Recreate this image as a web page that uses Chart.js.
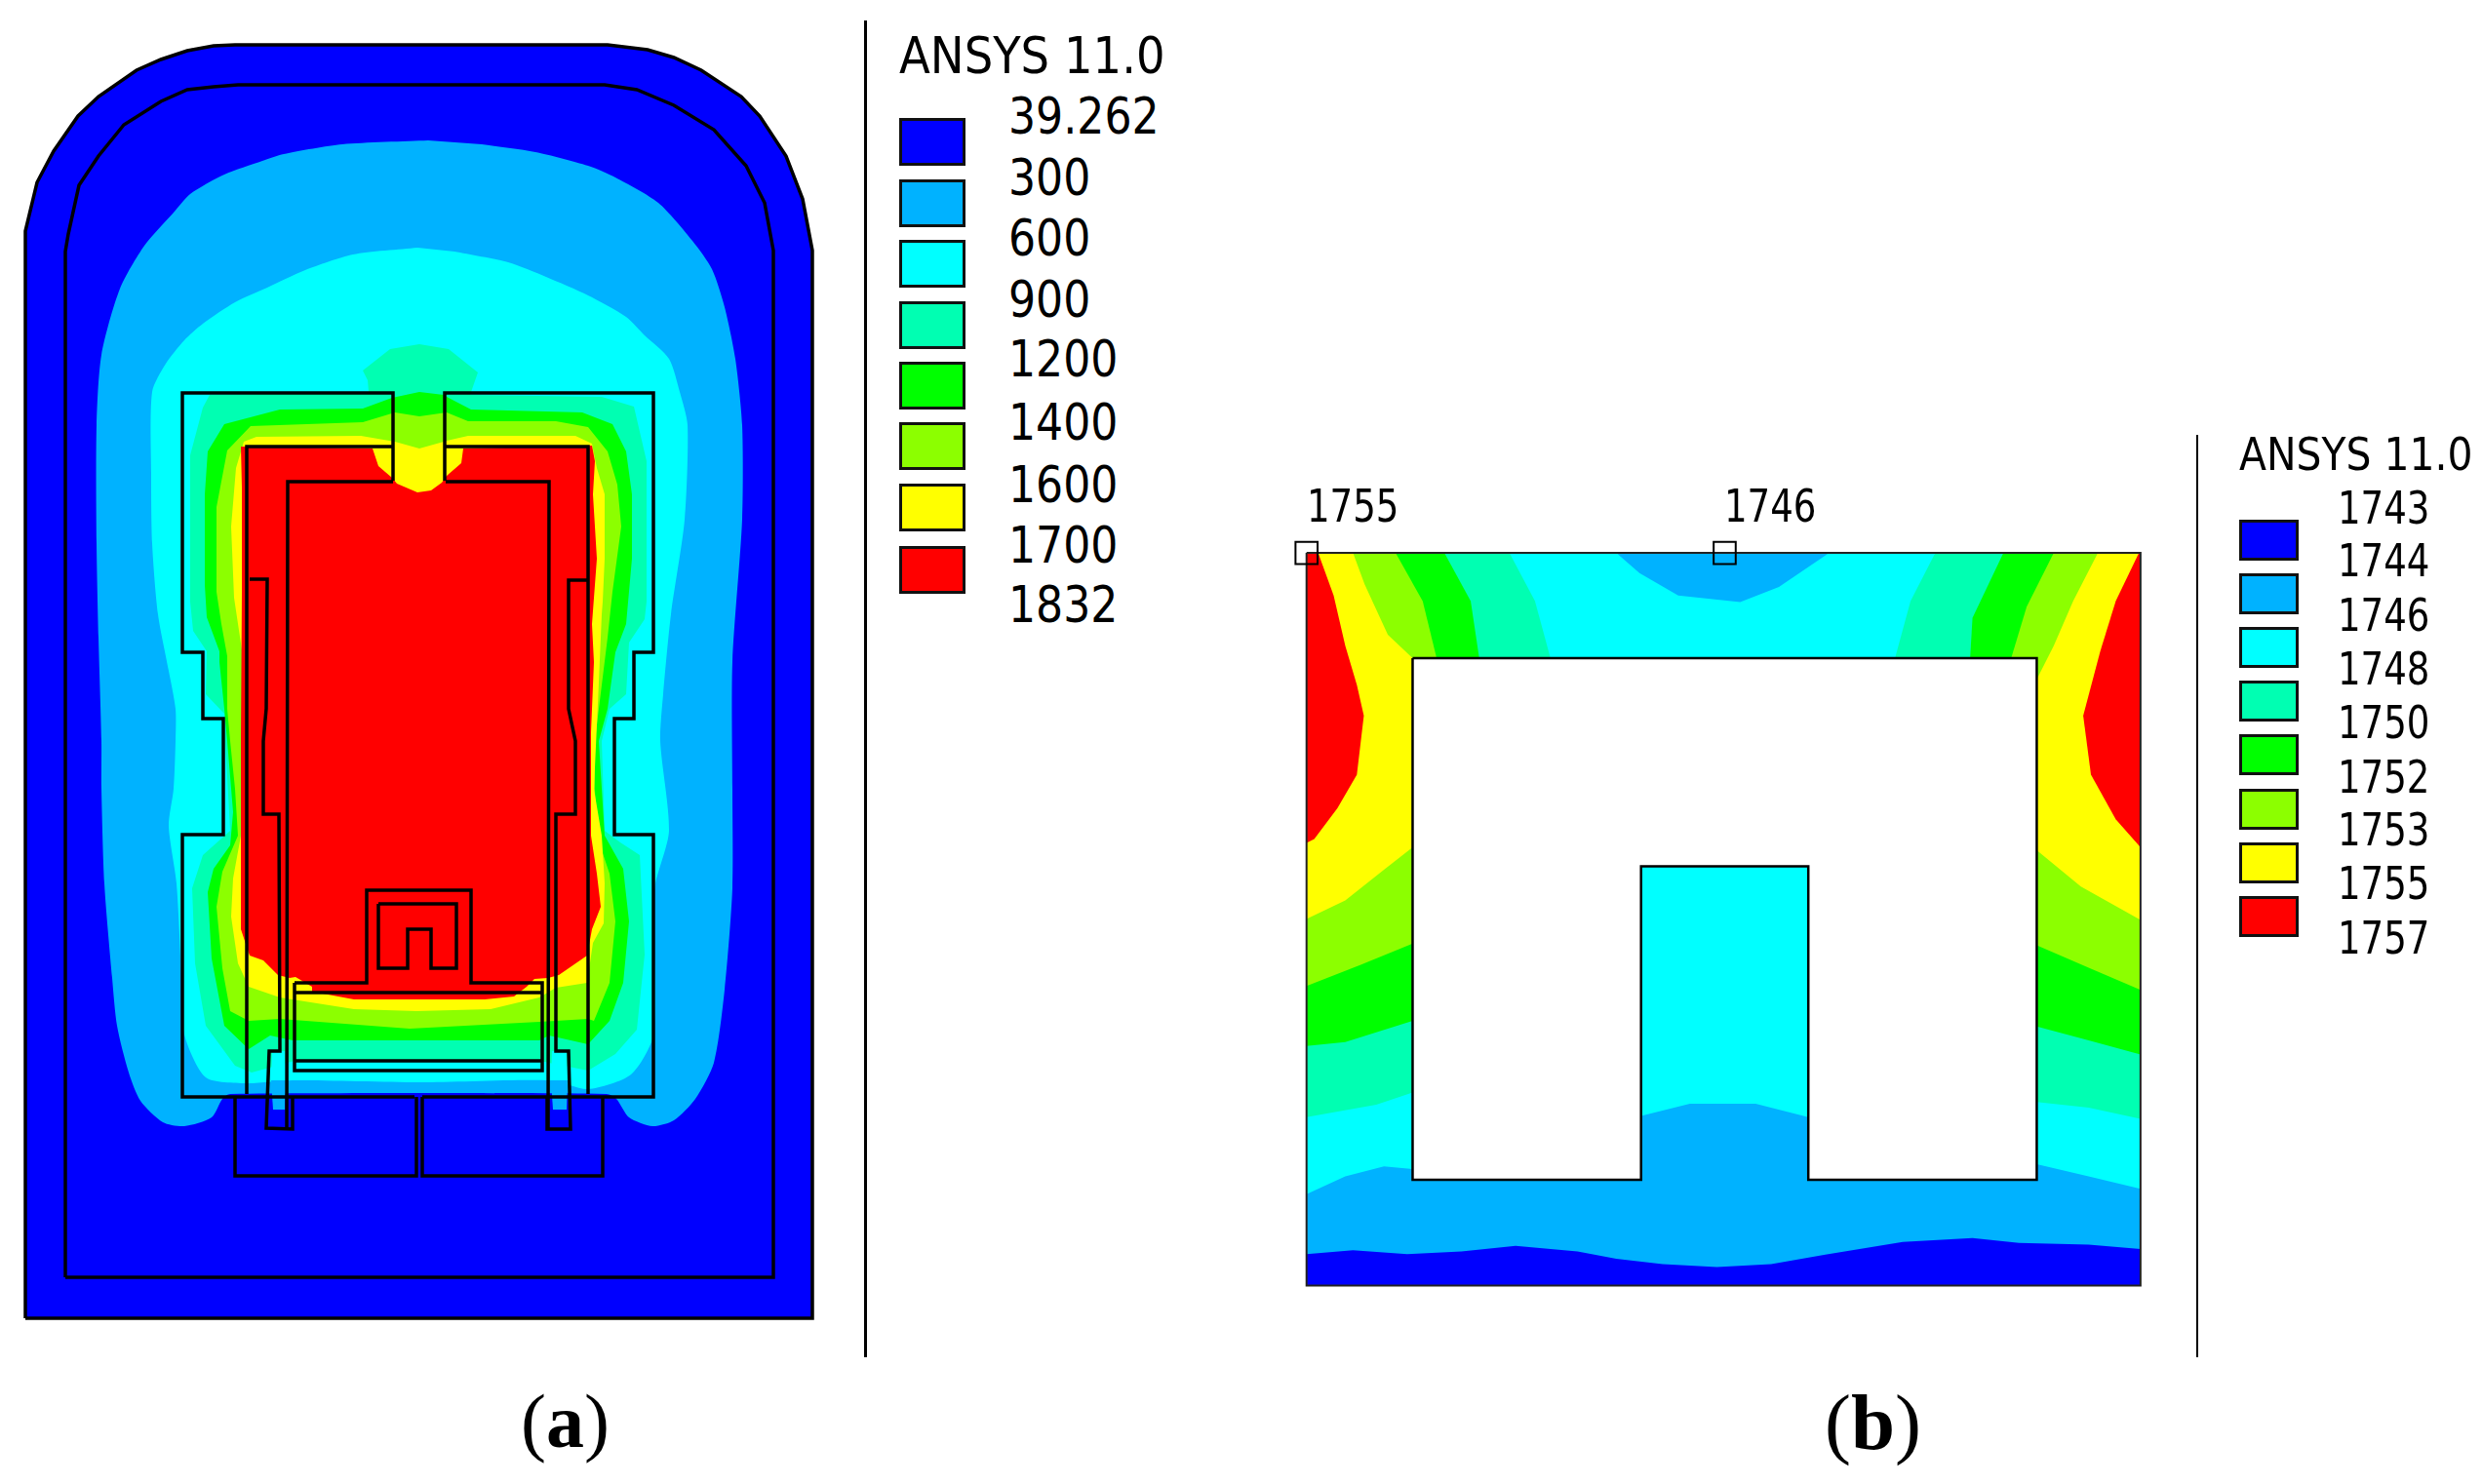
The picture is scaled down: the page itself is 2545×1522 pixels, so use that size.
<!DOCTYPE html>
<html>
<head>
<meta charset="utf-8">
<title>ANSYS temperature contours</title>
<script src="https://cdn.jsdelivr.net/npm/chart.js@4"></script>
<style>
  html, body { margin: 0; padding: 0; background: #fff; }
  #page { position: relative; width: 2545px; height: 1522px; overflow: hidden; }
  canvas { position: absolute; }
  .txt { position: absolute; font-family: "DejaVu Sans", sans-serif; color: #000; white-space: nowrap; transform-origin: left center; line-height: 1; }
  .swatch { position: absolute; box-sizing: border-box; border: 3px solid #111; }
  .rule { position: absolute; background: #000; }
  .cap { position: absolute; font-family: "Liberation Serif", serif; color: #000; line-height: 1; white-space: nowrap; }
  .cap b { font-weight: bold; }
</style>
</head>
<body>
<div id="page">
  <canvas id="chartA" width="860" height="1400" style="left:0;top:0"></canvas>
  <canvas id="chartB" width="1245" height="900" style="left:1300px;top:450px"></canvas>
</div>
<script>
// contour colours, low to high
const BLUE = '#0000ff', SKY = '#00b2ff', CYAN = '#00ffff', TEAL = '#00ffb2';
const GREEN = '#00ff00', LIME = '#8cff00', YELLOW = '#ffff00', RED = '#ff0000';
const bandColors = [BLUE, SKY, CYAN, TEAL, GREEN, LIME, YELLOW, RED];

// legends
const legendTitle = 'ANSYS 11.0';
const levelsA = ['39.262', '300', '600', '900', '1200', '1400', '1600', '1700', '1832'];
const levelsB = ['1743', '1744', '1746', '1748', '1750', '1752', '1753', '1755', '1757'];
const nodeLabels = ['1755', '1746'];

// ===== panel (a) outlines and bands =====
const aOuter = [[26,1352],[26,237],[38,187],[55,155],[80,119],[101,99],[140,72],[165,61],[192,52],[219,47],[241,46],[623,46],[664,51],[691,59],[719,72],[760,99],[779,119],[806,160],[823,204],[833,257],[833,1352]];
const aInner = [[67,1310],[67,258],[70,240],[81,190],[101,160],[127,128],[165,104],[192,92],[219,89],[244,87],[620,87],[653,92],[691,108],[732,133],[765,170],[784,208],[793,257],[793,1310]];

const aSky = [[439,144],[351,148],[291,158],[269,165],[230,179],[195,199],[178,218],[148,252],[123,296],[104,364],[99,436],[99,557],[101,654],[104,760],[104,809],[107,906],[115,1003],[120,1052],[132,1100],[144,1129],[167,1151],[189,1155],[217,1146],[228,1127],[236,1122],[622,1122],[632,1127],[645,1146],[669,1155],[691,1149],[713,1127],[732,1090],[743,1015],[751,911],[751,809],[751,679],[761,533],[761,436],[754,368],[743,315],[730,276],[710,247],[675,208],[631,182],[603,170],[549,156],[494,148]];
const aCyan = [[428,254],[362,261],[313,277],[274,295],[241,310],[208,332],[189,349],[170,373],[156,402],[155,485],[156,557],[162,630],[173,688],[180,727],[180,760],[178,809],[173,847],[181,906],[186,1000],[189,1061],[211,1105],[252,1111],[300,1108],[430,1110],[565,1108],[603,1117],[647,1102],[670,1061],[670,930],[672,906],[686,852],[677,760],[680,712],[688,630],[702,533],[705,436],[697,402],[686,368],[661,344],[642,325],[603,303],[560,284],[521,269],[466,258]];
const aTeal = [[378,402],[377,390],[372,380],[400,358],[430,353],[460,358],[490,382],[482,405],[617,407],[650,417],[663,473],[663,617],[661,635],[645,659],[642,712],[625,727],[617,760],[620,852],[636,864],[656,877],[661,979],[653,1056],[631,1081],[603,1098],[553,1088],[302,1088],[258,1100],[241,1093],[211,1052],[200,988],[197,911],[208,877],[236,852],[231,760],[230,732],[211,712],[212,668],[198,647],[195,617],[195,467],[208,418],[215,405]];
const aGreen = [[458,407],[483,420],[597,423],[628,435],[642,463],[648,507],[648,573],[642,640],[631,669],[623,727],[614,760],[617,809],[620,857],[639,891],[645,945],[639,1008],[625,1047],[603,1071],[563,1062],[553,1067],[300,1067],[277,1062],[255,1076],[230,1052],[217,983],[213,915],[219,891],[236,867],[239,833],[233,760],[230,727],[225,679],[225,668],[212,633],[210,600],[210,507],[213,463],[230,435],[287,420],[372,419],[402,408],[430,402],[455,405]];
const aLime = [[458,423],[480,432],[570,432],[603,438],[623,463],[633,497],[637,540],[628,607],[623,654],[614,727],[610,760],[610,809],[612,857],[625,896],[631,945],[625,1008],[609,1047],[603,1045],[553,1048],[420,1055],[287,1045],[255,1047],[236,1037],[228,993],[222,930],[228,894],[244,857],[241,809],[236,760],[233,727],[233,673],[227,640],[222,607],[222,520],[233,462],[257,437],[372,433],[405,423],[430,427]];
const aYellow = [[458,452],[480,447],[590,447],[607,455],[612,480],[620,507],[620,573],[618,617],[617,630],[614,700],[609,809],[617,857],[620,906],[619,947],[608,967],[602,1008],[570,1013],[553,1023],[503,1035],[427,1037],[363,1035],[287,1023],[255,1012],[244,988],[237,940],[239,901],[247,857],[250,760],[250,680],[240,613],[237,540],[242,480],[250,453],[263,448],[370,447],[405,453],[430,460],[455,453]];
const aRed = [[247,458],[382,460],[388,478],[402,490],[407,496],[428,505],[442,503],[453,495],[458,488],[473,475],[475,460],[607,457],[610,473],[608,507],[612,573],[607,640],[609,679],[606,751],[606,857],[612,896],[616,930],[607,953],[602,980],[573,1000],[562,1003],[548,1004],[540,1012],[527,1022],[497,1025],[363,1025],[320,1017],[320,1012],[303,1002],[297,1003],[285,1000],[270,985],[256,980],[247,953],[247,857],[247,760],[248,607],[248,500]];

// the two vertical legs at the bottom keep their own colours
const aLegCyanL = [[279,1078],[292,1078],[293,1108],[278,1108]];
const aLegSkyL = [[278,1108],[293,1108],[292,1138],[280,1138]];
const aLegCyanR = [[566,1078],[581,1078],[582,1108],[565,1108]];
const aLegSkyR = [[565,1108],[582,1108],[581,1138],[567,1138]];

// ===== panel (a) structure lines =====
const aLines = [
  [[403,493],[403,403],[187,403],[187,669],[208,669],[208,737],[229,737],[229,856],[187,856],[187,1125],[425,1125]],
  [[456,493],[456,403],[670,403],[670,669],[650,669],[650,737],[630,737],[630,856],[670,856],[670,1125],[433,1125]],
  [[241,1125],[241,1206],[427,1206],[427,1125]],
  [[433,1125],[433,1206],[618,1206],[618,1125]],
  [[253,1122],[253,458],[403,458]],
  [[457,458],[603,458],[603,1122]],
  [[294,1158],[295,494],[403,494]],
  [[457,494],[563,494],[562,1158]],
  [[256,594],[274,594],[273,727],[270,760],[270,835],[286,835],[287,1078],[276,1078],[273,1157],[300,1158],[300,1125]],
  [[603,595],[583,595],[583,727],[590,760],[590,835],[570,835],[570,1078],[583,1078],[585,1158],[561,1158],[561,1125]],
  [[302,1008],[376,1008],[376,913],[483,913],[483,1008],[556,1008],[556,1098],[302,1098],[302,1008]],
  [[302,1018],[556,1018]],
  [[302,1088],[556,1088]],
  [[388,927],[468,927],[468,993],[442,993],[442,953],[418,953],[418,993],[388,993],[388,927]]
];

// ===== panel (b) bands =====
const bFrame = [[50,204],[1127,204],[1127,1513],[50,1513]];
const bSkyBottom = [[50,1350],[100,1318],[150,1300],[187,1305],[482,1210],[545,1188],[630,1188],[698,1212],[993,1296],[1060,1318],[1127,1340],[1127,1513],[50,1513]];
const bBlue = [[50,1457],[110,1450],[180,1457],[250,1452],[320,1442],[400,1452],[450,1465],[510,1475],[580,1480],[650,1475],[720,1458],[820,1435],[910,1428],[970,1437],[1060,1440],[1127,1448],[1127,1513],[50,1513]];
const bSkyTop = [[450,204],[480,240],[530,280],[610,292],[660,265],[725,204]];
const bTealL = [[50,204],[312,204],[345,290],[365,392],[187,1168],[140,1190],[50,1212]];
const bGreenL = [[50,204],[228,204],[262,290],[273,392],[187,1040],[100,1078],[50,1085]];
const bLimeL = [[50,204],[165,204],[200,290],[218,392],[187,902],[120,940],[50,978]];
const bYellowL = [[50,204],[110,204],[125,260],[155,350],[187,392],[187,730],[150,770],[100,825],[50,858]];
const bRedL = [[50,204],[65,204],[85,280],[100,370],[115,440],[124,495],[115,600],[90,660],[60,715],[50,722]];
const bTealR = [[1127,204],[862,204],[830,290],[810,392],[993,1185],[1060,1195],[1127,1215]];
const bGreenR = [[1127,204],[950,204],[910,320],[907,392],[993,1050],[1060,1075],[1127,1100]];
const bLimeR = [[1127,204],[1015,204],[980,300],[960,392],[993,905],[1060,945],[1127,985]];
const bYellowR = [[1127,204],[1072,204],[1040,290],[1015,370],[993,430],[993,735],[1050,800],[1127,860]];
const bRedR = [[1127,204],[1125,204],[1095,290],[1075,380],[1053,495],[1063,600],[1095,680],[1127,730]];
const bHole = [[187,392],[993,392],[993,1324],[698,1324],[698,764],[482,764],[482,1324],[187,1324]];
const bNodes = [[50,204],[590,204]];

function toPoints(pairs) {
  return pairs.map(p => ({ x: p[0], y: p[1] }));
}

function band(pairs, color, edge, smooth) {
  return {
    data: toPoints(pairs),
    showLine: true,
    fill: 'shape',
    backgroundColor: color,
    borderColor: edge ? edge.color : color,
    borderWidth: edge ? edge.width : 0,
    pointRadius: 0,
    tension: smooth || 0
  };
}

function line(pairs, width) {
  return {
    data: toPoints(pairs),
    showLine: true,
    fill: false,
    borderColor: '#000',
    borderWidth: width,
    borderJoinStyle: 'miter',
    pointRadius: 0,
    tension: 0
  };
}

function closed(pairs) {
  return pairs.concat([pairs[0]]);
}

function plot(id, xMax, yMax, layers) {
  new Chart(document.getElementById(id), {
    type: 'scatter',
    // Chart.js paints the first dataset last, so flip the back-to-front list
    data: { datasets: layers.slice().reverse() },
    options: {
      responsive: false,
      animation: false,
      devicePixelRatio: 1,
      layout: { padding: 0, autoPadding: false },
      plugins: { legend: { display: false }, tooltip: { enabled: false } },
      scales: {
        x: { type: 'linear', display: false, min: 0, max: xMax },
        y: { type: 'linear', display: false, min: 0, max: yMax, reverse: true }
      }
    }
  });
}

plot('chartA', 860, 1400, [
  band(closed(aOuter), BLUE, { color: '#000', width: 3.5 }),
  line(closed(aInner), 3.5),
  band(aSky, SKY, null, 0.25),
  band(aCyan, CYAN, null, 0.25),
  band(aTeal, TEAL),
  band(aGreen, GREEN),
  band(aLime, LIME),
  band(aYellow, YELLOW),
  band(aRed, RED),
  band(aLegCyanL, CYAN),
  band(aLegSkyL, SKY),
  band(aLegCyanR, CYAN),
  band(aLegSkyR, SKY)
].concat(aLines.map(l => line(l, 3.5))));

plot('chartB', 1568, 1568, [
  band(bFrame, CYAN),
  band(bSkyBottom, SKY),
  band(bBlue, BLUE),
  band(bSkyTop, SKY),
  band(bTealL, TEAL),
  band(bGreenL, GREEN),
  band(bLimeL, LIME),
  band(bYellowL, YELLOW),
  band(bRedL, RED),
  band(bTealR, TEAL),
  band(bGreenR, GREEN),
  band(bLimeR, LIME),
  band(bYellowR, YELLOW),
  band(bRedR, RED),
  band(closed(bHole), '#ffffff', { color: '#000', width: 2.5 }),
  Object.assign(line(closed(bFrame), 2), { borderColor: '#222' }),
  {
    data: toPoints(bNodes),
    showLine: false,
    pointStyle: 'rect',
    pointRadius: 16,
    pointBorderColor: '#000',
    pointBorderWidth: 2,
    pointBackgroundColor: 'rgba(0,0,0,0)'
  }
]);

// ===== legends and captions are plain page text =====
const page = document.getElementById('page');

function addText(str, left, centerY, size, squeeze) {
  const el = document.createElement('div');
  el.className = 'txt';
  el.textContent = str;
  el.style.left = left + 'px';
  el.style.top = (centerY - size / 2) + 'px';
  el.style.fontSize = size + 'px';
  el.style.transform = 'scaleX(' + squeeze + ')';
  page.appendChild(el);
}

function addBox(cls, left, top, width, height, color) {
  const el = document.createElement('div');
  el.className = cls;
  el.style.cssText = 'left:' + left + 'px;top:' + top + 'px;width:' + width + 'px;height:' + height + 'px;' + (color ? 'background:' + color : '');
  page.appendChild(el);
}

addBox('rule', 886, 21, 3, 1371);
addText(legendTitle, 922, 57, 52, 0.895);
const labelYA = [119, 182, 244, 307, 368, 433, 497, 559, 620];
levelsA.forEach((t, i) => addText(t, 1034, labelYA[i], 52, 0.85));
const swatchTopA = [121, 184, 246, 309, 371, 433, 496, 560];
bandColors.forEach((c, i) => addBox('swatch', 922, swatchTopA[i], 68, 49, c));

addBox('rule', 2252, 446, 2, 946);
addText(legendTitle, 2296, 465, 47, 0.87);
const labelYB = [520, 574, 630, 685, 740, 796, 850, 905, 961];
levelsB.forEach((t, i) => addText(t, 2397, labelYB[i], 47, 0.79));
bandColors.forEach((c, i) => addBox('swatch', 2296, 533 + i * 55.1, 61, 42, c));

addText(nodeLabels[0], 1340, 518, 47, 0.79);
addText(nodeLabels[1], 1768, 518, 47, 0.79);

function addCaption(letter, left, top, size) {
  const el = document.createElement('div');
  el.className = 'cap';
  el.style.left = left + 'px';
  el.style.top = top + 'px';
  el.style.fontSize = size + 'px';
  el.innerHTML = '(<b>' + letter + '</b>)';
  page.appendChild(el);
}
addCaption('a', 534, 1419, 78);
addCaption('b', 1871, 1419, 81);
</script>
</body>
</html>
